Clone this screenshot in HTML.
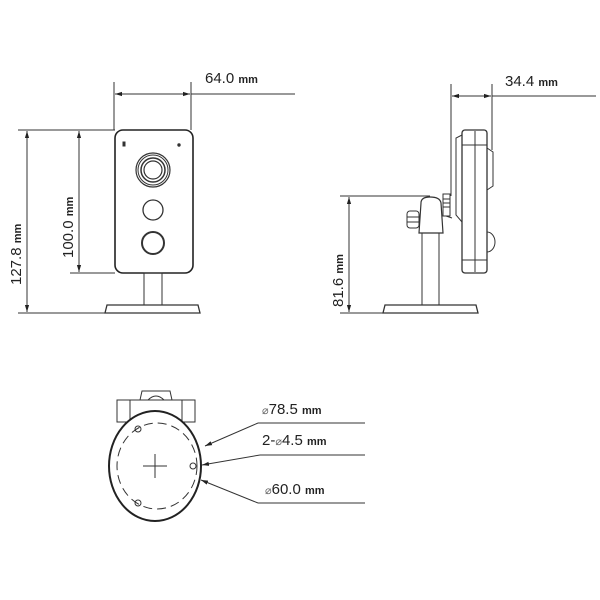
<!DOCTYPE html>
<html><head><style>
html,body{margin:0;padding:0;background:#fff;}
svg{display:block;}
text{font-family:"Liberation Sans",sans-serif;fill:#222;}
</style></head><body>
<svg width="600" height="600" viewBox="0 0 600 600" xmlns="http://www.w3.org/2000/svg">
<defs>
<marker id="a" viewBox="0 0 10 10" refX="10" refY="5" markerWidth="7" markerHeight="7" orient="auto-start-reverse"><path d="M0,2 L10,5 L0,8 z" fill="#222"/></marker>
</defs>
<g stroke="#333" stroke-width="1" fill="none">
<!-- FRONT VIEW dims -->
<line x1="114" y1="82" x2="114" y2="130"/>
<line x1="191" y1="82" x2="191" y2="130"/>
<line x1="115" y1="94" x2="190" y2="94" marker-start="url(#a)" marker-end="url(#a)"/>
<line x1="191" y1="94" x2="295" y2="94"/>
<line x1="18" y1="130" x2="115" y2="130"/>
<line x1="18" y1="313" x2="115" y2="313"/>
<line x1="70" y1="273" x2="115" y2="273"/>
<line x1="27" y1="131" x2="27" y2="312" marker-start="url(#a)" marker-end="url(#a)"/>
<line x1="79" y1="131" x2="79" y2="272" marker-start="url(#a)" marker-end="url(#a)"/>
<!-- front camera -->
<rect x="115" y="130" width="78" height="143" rx="8" stroke-width="1.6" stroke="#222"/>
<rect x="123" y="142" width="2" height="4" fill="#333"/>
<circle cx="179" cy="145" r="1.2" fill="#333"/>
<circle cx="153" cy="170" r="17" stroke-width="1.2"/>
<circle cx="153" cy="170" r="15"/>
<circle cx="153" cy="170" r="12" stroke-width="1.5"/>
<circle cx="153" cy="170" r="9" stroke-width="1.2"/>
<circle cx="153" cy="210" r="10" stroke-width="1.3"/>
<circle cx="153" cy="243" r="11" stroke-width="2"/>
<rect x="144" y="273" width="18" height="32"/>
<path d="M107,305 L198,305 L200,313 L105,313 Z" stroke-width="1.3"/>

<!-- SIDE VIEW dims -->
<line x1="451" y1="84" x2="451" y2="196"/>
<line x1="492" y1="84" x2="492" y2="150"/>
<line x1="452" y1="96" x2="491" y2="96" marker-start="url(#a)" marker-end="url(#a)"/>
<line x1="492" y1="96" x2="596" y2="96"/>
<line x1="340" y1="196" x2="430" y2="196"/>
<line x1="340" y1="313" x2="384" y2="313"/>
<line x1="349" y1="197" x2="349" y2="312" marker-start="url(#a)" marker-end="url(#a)"/>
<!-- side camera -->
<rect x="462" y="130" width="25" height="143" rx="3" stroke-width="1.3"/>
<line x1="475" y1="131" x2="475" y2="272"/>
<line x1="462" y1="145" x2="487" y2="145"/>
<line x1="462" y1="260" x2="487" y2="260"/>
<path d="M462,135 L456,138 L456,215 L462,222"/>
<path d="M487,148 L493,152 L493,186 L487,190"/>
<path d="M487,232 A8,10 0 0 1 487,252"/>
<path d="M446,200 L446,216 L452,218" />
<rect x="443" y="194" width="7" height="22" fill="#fff"/>
<line x1="443" y1="199" x2="450" y2="199"/><line x1="443" y1="203" x2="450" y2="203"/><line x1="443" y1="207" x2="450" y2="207"/>
<path d="M419,233 L421,203 Q421,197 430,197 Q440,197 441,203 L443,233 Z" stroke-width="1.2"/>
<rect x="407" y="211" width="12" height="17" rx="3"/>
<line x1="407" y1="217" x2="419" y2="217"/><line x1="407" y1="222" x2="419" y2="222"/>
<rect x="422" y="233" width="17" height="72"/>
<path d="M385,305 L476,305 L478,313 L383,313 Z" stroke-width="1.3"/>

<!-- BOTTOM VIEW -->
<rect x="117" y="400" width="78" height="22" fill="#fff"/>
<line x1="130" y1="400" x2="130" y2="422"/><line x1="182" y1="400" x2="182" y2="422"/>
<path d="M140,400 L142,391 L170,391 L172,400"/>
<path d="M148,400 Q156,392 164,400"/>
<ellipse cx="155" cy="466" rx="46" ry="55" stroke-width="2" stroke="#222" fill="#fff"/>
<ellipse cx="157" cy="466" rx="40" ry="43" stroke-dasharray="9,5"/>
<circle cx="138" cy="429" r="3"/>
<circle cx="138" cy="503" r="3"/>
<circle cx="193" cy="466" r="3"/>
<line x1="143" y1="466" x2="167" y2="466"/>
<line x1="155" y1="454" x2="155" y2="478"/>
<line x1="258" y1="423" x2="205" y2="446" marker-end="url(#a)"/>
<line x1="258" y1="423" x2="365" y2="423"/>
<line x1="260" y1="455" x2="202" y2="465" marker-end="url(#a)"/>
<line x1="260" y1="455" x2="365" y2="455"/>
<line x1="258" y1="503" x2="201" y2="480" marker-end="url(#a)"/>
<line x1="258" y1="503" x2="365" y2="503"/>
</g>

<text x="205" y="83" font-size="15">64.0 <tspan font-size="11" font-weight="bold">mm</tspan></text>
<text x="505" y="86" font-size="15">34.4 <tspan font-size="11" font-weight="bold">mm</tspan></text>
<text transform="translate(21,285) rotate(-90)" font-size="15">127.8 <tspan font-size="11" font-weight="bold">mm</tspan></text>
<text transform="translate(73,258) rotate(-90)" font-size="15">100.0 <tspan font-size="11" font-weight="bold">mm</tspan></text>
<text transform="translate(343,307) rotate(-90)" font-size="15">81.6 <tspan font-size="11" font-weight="bold">mm</tspan></text>
<text x="262" y="414" font-size="15"><tspan font-size="11" fill="#666">⌀</tspan>78.5 <tspan font-size="11" font-weight="bold">mm</tspan></text>
<text x="262" y="445" font-size="15">2-<tspan font-size="11" fill="#666">⌀</tspan>4.5 <tspan font-size="11" font-weight="bold">mm</tspan></text>
<text x="265" y="494" font-size="15"><tspan font-size="11" fill="#666">⌀</tspan>60.0 <tspan font-size="11" font-weight="bold">mm</tspan></text>
</svg>
</body></html>
